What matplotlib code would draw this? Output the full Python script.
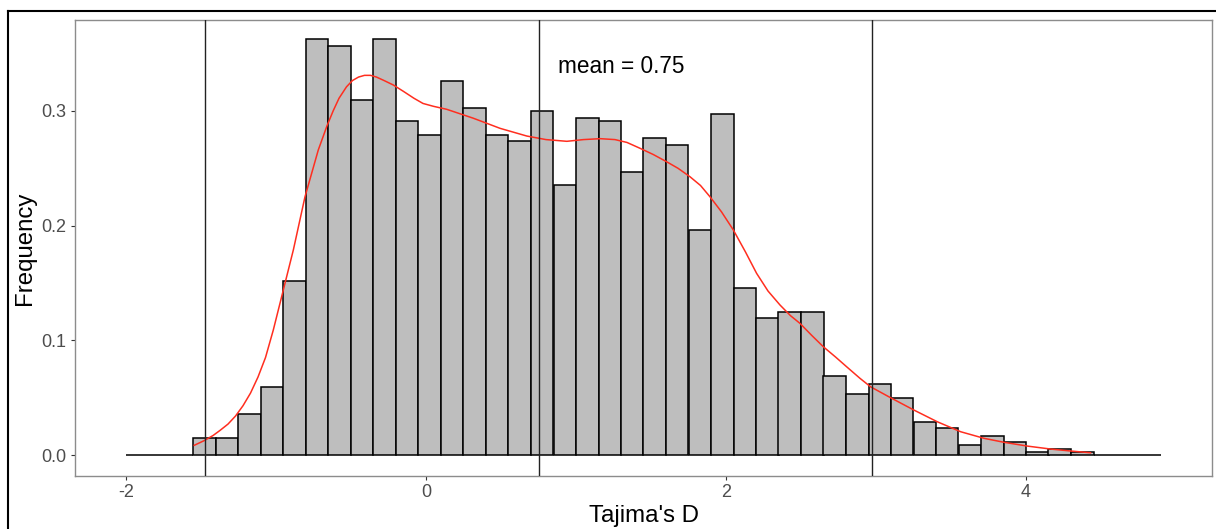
import numpy as np
import matplotlib
matplotlib.use("Agg")
import matplotlib.pyplot as plt
from matplotlib.lines import Line2D

plt.rcParams['font.family'] = ['Liberation Sans', 'DejaVu Sans']

# histogram of Tajima's D (density scale), bins of width 0.15 starting at -2
bin_start = -2.0
bin_width = 0.15
heights = [0, 0, 0,
           0.0147, 0.0147, 0.0359, 0.0594, 0.1515, 0.3624, 0.3565, 0.3094, 0.3624, 0.2912,
           0.2794, 0.3265, 0.3029, 0.2794, 0.2735, 0.3000, 0.2353, 0.2941, 0.2912, 0.2465,
           0.2765, 0.2706, 0.1959, 0.2971, 0.1456, 0.1191, 0.1247, 0.1247, 0.0688, 0.0529,
           0.0619, 0.0500, 0.0290, 0.0233, 0.0084, 0.0169, 0.0116, 0.0026, 0.0055, 0.0026,
           0, 0, 0]

# density curve
dens_x = [-1.545, -1.48, -1.42, -1.373, -1.32, -1.27, -1.22, -1.17, -1.12, -1.07,
          -1.018, -0.951, -0.884, -0.807, -0.718, -0.66, -0.619, -0.58, -0.530, -0.49,
          -0.45, -0.41, -0.37, -0.33, -0.28, -0.218, -0.15, -0.08, -0.02, 0.05,
          0.138, 0.316, 0.494, 0.672, 0.80, 0.939, 1.05, 1.162, 1.26, 1.340,
          1.427, 1.515, 1.604, 1.68, 1.76, 1.83, 1.893, 1.97, 2.049, 2.13,
          2.204, 2.28, 2.36, 2.43, 2.493, 2.57, 2.649, 2.73, 2.804, 2.893,
          2.964, 3.097, 3.253, 3.409, 3.565, 3.720, 3.854, 4.010, 4.166, 4.30,
          4.43]
dens_y = [0.0085, 0.0125, 0.017, 0.0215, 0.027, 0.034, 0.043, 0.054, 0.068, 0.085,
          0.109, 0.144, 0.179, 0.225, 0.266, 0.287, 0.300, 0.311, 0.321, 0.3265,
          0.3295, 0.331, 0.331, 0.3295, 0.3265, 0.3226, 0.317, 0.311, 0.3065, 0.304,
          0.3014, 0.2936, 0.2848, 0.2781, 0.275, 0.2735, 0.275, 0.2758, 0.275, 0.2725,
          0.2674, 0.262, 0.2557, 0.250, 0.2426, 0.235, 0.2252, 0.212, 0.1962, 0.177,
          0.1584, 0.143, 0.1308, 0.1215, 0.1148, 0.1045, 0.0944, 0.0855, 0.077, 0.0669,
          0.0595, 0.0500, 0.0392, 0.029, 0.0203, 0.0146, 0.0111, 0.0078, 0.0052, 0.0035,
          0.002]

mean_d = 0.75
lower_d = -1.47
upper_d = 2.97

W, H = 1216, 529
fig = plt.figure(figsize=(W / 100, H / 100), dpi=100)
ax = fig.add_axes([75 / W, (H - 475.7) / H, (1212 - 75) / W, (475.7 - 19.6) / H])

lefts = bin_start + bin_width * np.arange(len(heights))
ax.bar(lefts, heights, width=bin_width, align='edge', color='#BEBEBE',
       edgecolor='black', linewidth=1.1, zorder=2)
ax.plot(dens_x, dens_y, color='#FF2E1F', linewidth=1.1, zorder=3)

for v in [lower_d, mean_d, upper_d]:
    ax.axvline(v, color='#222222', linewidth=1.0, zorder=4)

ax.text(1.3, 0.333, 'mean = 0.75', ha='center', va='baseline', fontsize=16.3, color='black')

ax.set_xlim(-2.34, 5.24)
ax.set_ylim(-0.018, 0.3796)
ax.set_xticks([-2, 0, 2, 4])
ax.set_xticklabels(['-2', '0', '2', '4'])
ax.set_yticks([0.0, 0.1, 0.2, 0.3])
ax.set_yticklabels(['0.0', '0.1', '0.2', '0.3'])
ax.tick_params(length=3, width=0.8, color='#333333', labelcolor='#4D4D4D',
               labelsize=13, pad=3)
for s in ax.spines.values():
    s.set_color('#8C8C8C')
    s.set_linewidth(1.0)

fig.text(643.5 / W, 1 - 521.7 / H, "Tajima's D", ha='center', va='baseline', fontsize=17.3)
fig.text(25.5 / W, 1 - 248 / H, 'Frequency', ha='center', va='center',
         rotation=90, fontsize=17.3)

# outer frame of the screenshot
fig.add_artist(Line2D([7.5 / W, 7.5 / W], [0, 1 - 11 / H], color='black', linewidth=1.5))
fig.add_artist(Line2D([7.5 / W, 1], [1 - 11 / H, 1 - 11 / H], color='black', linewidth=1.5))

fig.savefig('out.png', dpi=100)
